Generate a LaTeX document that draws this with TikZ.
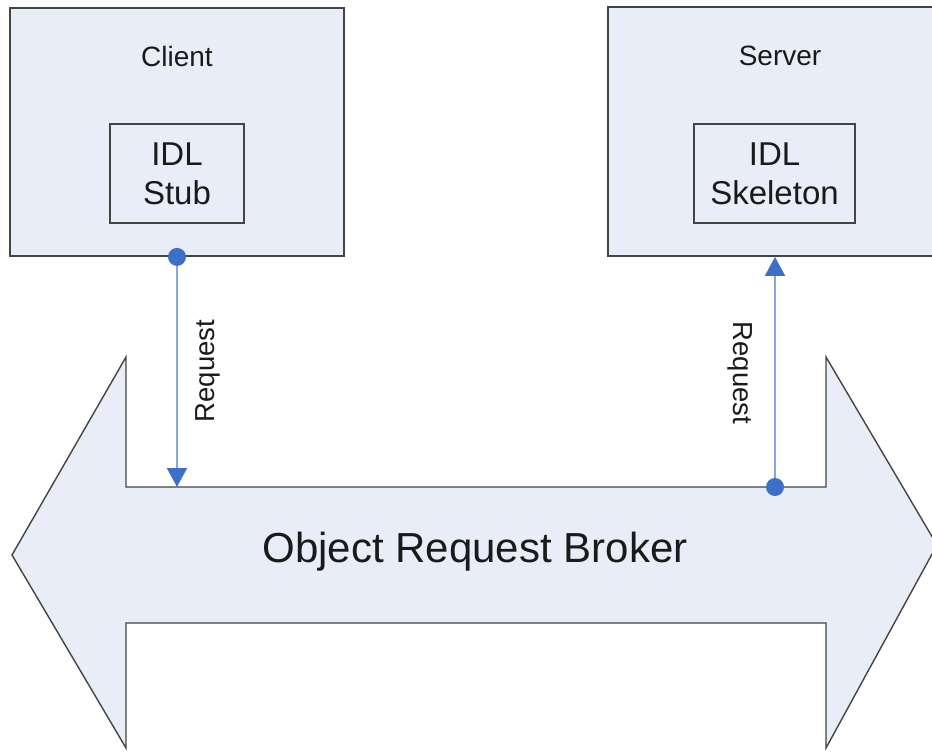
\documentclass[tikz,border=0pt]{standalone}
\usepackage{fontspec}
\setmainfont{Liberation Sans}
\usetikzlibrary{arrows.meta}
\definecolor{boxfill}{HTML}{E8EDF7}
\definecolor{edge}{HTML}{444444}
\definecolor{reqline}{HTML}{86A8DC}
\definecolor{reqdark}{HTML}{3C70C8}
\definecolor{ink}{HTML}{1A1A1A}
\tikzset{
  outerbox/.style={draw=edge,line width=1.8pt,fill=boxfill,inner sep=0pt},
  innerbox/.style={draw=edge,line width=1.5pt,fill=boxfill,inner sep=0pt,align=center,
     font=\fontsize{33}{39}\selectfont,text=ink},
  title/.style={font=\fontsize{28}{33}\selectfont,text=ink,anchor=base,inner sep=0pt},
  reqlabel/.style={font=\fontsize{27.5}{33}\selectfont,text=ink,inner sep=0pt},
  req/.style={draw=reqline,line width=1.8pt,-{Triangle[width=20pt,length=19pt,color=reqdark]}},
  reqdot/.style={fill=reqdark},
  broker/.style={draw=edge,line width=1.4pt,fill=boxfill,line join=miter}
}
\begin{document}
\begin{tikzpicture}[x=1pt,y=-1pt]
\useasboundingbox (0,0) rectangle (932,753);
\fill[white] (0,0) rectangle (932,753);
% broker double arrow
\path[broker] (12,555) -- (126,357) -- (126,487) -- (826,487) -- (826,357) -- (937,545)
  -- (826,748) -- (826,623) -- (126,623) -- (126,748) -- cycle;
\node[font=\fontsize{42}{50}\selectfont,text=ink,inner sep=0pt] (orb) at (475,552) {Object Request Broker};
\coordinate (lt) at (177,487);
\coordinate (rb) at (775,487);
% client
\node[outerbox,minimum width=334pt,minimum height=248pt] (client) at (177,132) {};
\node[title] (clienttxt) at (177,66) {Client};
\node[innerbox,minimum width=134pt,minimum height=99pt] (stub) at (177,173.5) {IDL\\Stub};
% server
\node[outerbox,minimum width=334pt,minimum height=249pt] (server) at (775,131.5) {};
\node[title] (servertxt) at (780,65) {Server};
\node[innerbox,minimum width=161pt,minimum height=99pt] (skel) at (774.5,173.5) {IDL\\Skeleton};
% requests
\draw[req] (client.south) -- (lt);
\fill[reqdot] (client.south) circle[radius=9pt];
\coordinate (stop) at (server.south -| rb);
\draw[req] (rb) -- (stop);
\fill[reqdot] (rb) circle[radius=9pt];
\node[reqlabel,rotate=90] (lreq) at (208,371) {Request};
\node[reqlabel,rotate=-90] (rreq) at (740,373) {Request};
\end{tikzpicture}
\end{document}
